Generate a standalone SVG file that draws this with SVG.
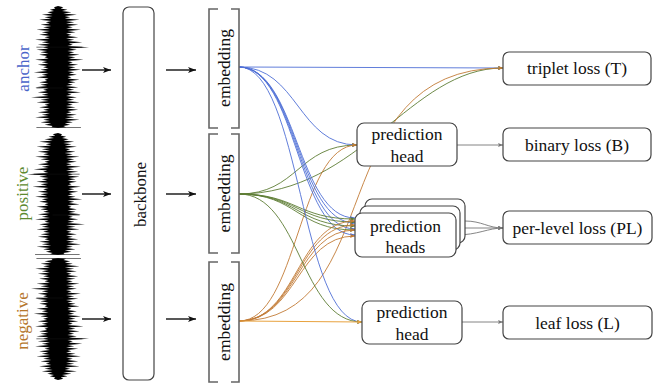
<svg xmlns="http://www.w3.org/2000/svg" xmlns:xlink="http://www.w3.org/1999/xlink" width="661" height="385" viewBox="0 0 661 385" font-family="'Liberation Serif', 'Times New Roman', serif">
<style>
text{font-family:"Liberation Serif","Times New Roman",serif;}
.lbl{font-size:17.5px;fill:#111;text-anchor:middle;}
.box{fill:#fff;stroke:#444;stroke-width:1.2;}
.brk{fill:none;stroke:#666;stroke-width:1.6;}
.blk{fill:none;stroke:#111;stroke-width:1.4;}
.gry{fill:none;stroke:#777;stroke-width:0.9;}
.cb{fill:none;stroke:#4f6fd6;stroke-width:0.9;}
.cg{fill:none;stroke:#5e7d34;stroke-width:0.9;}
.co{fill:none;stroke:#c27b35;stroke-width:0.9;}
.co2{fill:none;stroke:#e8a23e;stroke-width:1;}
.whisk{stroke:#111;stroke-width:0.5;}
</style>
<defs>
<marker id="mB" markerUnits="userSpaceOnUse" markerWidth="6" markerHeight="5" refX="5" refY="2" orient="auto"><path d="M0,0 L5,2 L0,4 L1,2 z" fill="#4f6fd6"/></marker>
<marker id="mG" markerUnits="userSpaceOnUse" markerWidth="6" markerHeight="5" refX="5" refY="2" orient="auto"><path d="M0,0 L5,2 L0,4 L1,2 z" fill="#5e7d34"/></marker>
<marker id="mO" markerUnits="userSpaceOnUse" markerWidth="6" markerHeight="5" refX="5" refY="2" orient="auto"><path d="M0,0 L5,2 L0,4 L1,2 z" fill="#c27b35"/></marker>
<marker id="mO2" markerUnits="userSpaceOnUse" markerWidth="6" markerHeight="5" refX="5" refY="2" orient="auto"><path d="M0,0 L5,2 L0,4 L1,2 z" fill="#e8a23e"/></marker>
<marker id="mGr" markerUnits="userSpaceOnUse" markerWidth="6" markerHeight="5" refX="5" refY="2" orient="auto"><path d="M0,0 L5,2 L0,4 L1,2 z" fill="#777"/></marker>
<marker id="mK" markerUnits="userSpaceOnUse" markerWidth="9" markerHeight="7" refX="8" refY="3" orient="auto"><path d="M0,0 L8,3 L0,6 L2,3 z" fill="#111"/></marker>
<g id="wave">
<path fill="#000" d="M0,0 L4,1.2 L2,2.5 L7,3.8 L3,5 L10,6.2 L4,7.5 L14,8.8 L5,10 L9,11.2 L5,12.5 L16,13.8 L6,15 L12,16.2 L6,17.5 L15,18.8 L7,20 L11,21.2 L6,22.5 L17,23.8 L7,25 L13,26.2 L6,27.5 L10,28.8 L7,30 L15,31.2 L6,32.5 L12,33.8 L7,35 L18,36.2 L8,37.5 L11,38.8 L7,40 L23,41.2 L8,42.5 L14,43.8 L7,45 L12,46.2 L8,47.5 L16,48.8 L7,50 L13,51.2 L8,52.5 L19,53.8 L7,55 L11,56.2 L8,57.5 L15,58.8 L7,60 L13,61.2 L8,62.5 L17,63.8 L7,65 L12,66.2 L8,67.5 L14,68.8 L7,70 L10,71.2 L7,72.5 L16,73.8 L8,75 L13,76.2 L7,77.5 L11,78.8 L6,80 L15,81.2 L7,82.5 L12,83.8 L6,85 L17,86.2 L7,87.5 L10,88.8 L6,90 L14,91.2 L7,92.5 L12,93.8 L6,95 L16,96.2 L7,97.5 L11,98.8 L6,100 L13,101.2 L6,102.5 L15,103.8 L7,105 L10,106.2 L6,107.5 L14,108.8 L6,110 L12,111.2 L5,112.5 L16,113.8 L6,115 L11,116.2 L5,117.5 L9,118.8 L4,120 L6,121.2 L0,122 L-5,121.2 L-4,120 L-10,118.8 L-5,117.5 L-13,116.2 L-6,115 L-11,113.8 L-6,112.5 L-17,111.2 L-7,110 L-12,108.8 L-6,107.5 L-15,106.2 L-7,105 L-11,103.8 L-6,102.5 L-14,101.2 L-7,100 L-10,98.8 L-6,97.5 L-16,96.2 L-7,95 L-13,93.8 L-6,92.5 L-20,91.2 L-7,90 L-12,88.8 L-7,87.5 L-15,86.2 L-8,85 L-11,83.8 L-7,82.5 L-17,81.2 L-8,80 L-13,78.8 L-7,77.5 L-14,76.2 L-8,75 L-10,73.8 L-7,72.5 L-16,71.2 L-8,70 L-12,68.8 L-7,67.5 L-18,66.2 L-8,65 L-13,63.8 L-7,62.5 L-11,61.2 L-8,60 L-15,58.8 L-7,57.5 L-12,56.2 L-8,55 L-17,53.8 L-7,52.5 L-10,51.2 L-8,50 L-14,48.8 L-7,47.5 L-13,46.2 L-8,45 L-16,43.8 L-7,42.5 L-11,41.2 L-7,40 L-15,38.8 L-6,37.5 L-12,36.2 L-7,35 L-17,33.8 L-6,32.5 L-10,31.2 L-6,30 L-14,28.8 L-7,27.5 L-12,26.2 L-6,25 L-16,23.8 L-6,22.5 L-11,21.2 L-5,20 L-13,18.8 L-6,17.5 L-9,16.2 L-5,15 L-14,13.8 L-5,12.5 L-10,11.2 L-4,10 L-12,8.8 L-4,7.5 L-8,6.2 L-3,5 L-6,3.8 L-2,2.5 L-3,1.2 Z"/>
<line class="whisk" x1="-16" y1="41.2" x2="18" y2="41.2"/>
<line class="whisk" x1="-16" y1="82" x2="4" y2="82"/>
<line class="whisk" x1="-16" y1="121.5" x2="17" y2="121.5"/>
</g>
</defs>
<rect width="661" height="385" fill="#fff"/>

<g id="connectors">
<path class="blk" d="M82,70 L111,70" marker-end="url(#mK)"/>
<path class="blk" d="M82,194 L111,194" marker-end="url(#mK)"/>
<path class="blk" d="M82,319 L111,319" marker-end="url(#mK)"/>
<path class="blk" d="M166,70 L196,70" marker-end="url(#mK)"/>
<path class="blk" d="M166,194 L196,194" marker-end="url(#mK)"/>
<path class="blk" d="M166,319 L196,319" marker-end="url(#mK)"/>

<path class="cb" d="M239,67 L503,68" marker-end="url(#mB)"/>
<path class="cg" d="M239,194 C360,194 410,68 503,68" marker-end="url(#mG)"/>
<path class="co" d="M239,321 C390,321 320,68 503,68" marker-end="url(#mO)"/>

<path class="cb" d="M239,67 C298,67 298,145 357,145" marker-end="url(#mB)"/>
<path class="cg" d="M239,194 C298,194 298,145 357,145" marker-end="url(#mG)"/>
<path class="co" d="M239,321 C298,321 298,145 357,145" marker-end="url(#mO)"/>

<path class="cb" d="M239,67 C297,67 297,218 355,218" marker-end="url(#mB)"/>
<path class="cb" d="M239,67 C297,67 297,223 355,223" marker-end="url(#mB)"/>
<path class="cb" d="M239,67 C297,67 297,229 355,229" marker-end="url(#mB)"/>
<path class="cb" d="M239,67 C297,67 297,235 355,235" marker-end="url(#mB)"/>
<path class="cg" d="M239,194 C297,194 297,219 355,219" marker-end="url(#mG)"/>
<path class="cg" d="M239,194 C297,194 297,222 355,222" marker-end="url(#mG)"/>
<path class="cg" d="M239,194 C297,194 297,226 355,226" marker-end="url(#mG)"/>
<path class="cg" d="M239,194 C297,194 297,230 355,230" marker-end="url(#mG)"/>
<path class="co" d="M239,321 C297,321 297,221 355,221" marker-end="url(#mO)"/>
<path class="co" d="M239,321 C297,321 297,225 355,225" marker-end="url(#mO)"/>
<path class="co" d="M239,321 C297,321 297,230 355,230" marker-end="url(#mO)"/>
<path class="co" d="M239,321 C297,321 297,236 355,236" marker-end="url(#mO)"/>

<path class="cb" d="M239,67 C300.5,67 300.5,322 362,322" marker-end="url(#mB)"/>
<path class="cg" d="M239,194 C300.5,194 300.5,322 362,322" marker-end="url(#mG)"/>
<path class="co2" d="M239,321 L362,322" marker-end="url(#mO2)"/>

<path class="gry" d="M457,145 L503,145" marker-end="url(#mGr)"/>
<path class="gry" d="M465,221 C482,221 488,228 503,228" marker-end="url(#mGr)"/>
<path class="gry" d="M460,228 L503,228" marker-end="url(#mGr)"/>
<path class="gry" d="M456,235 C478,235 488,228 503,228" marker-end="url(#mGr)"/>
<path class="gry" d="M462,322 L503,322" marker-end="url(#mGr)"/>
</g>

<g id="anchor-input">
<use xlink:href="#wave" transform="translate(58,6) scale(1.35,1)"/>
<text x="0" y="0" transform="translate(29,68.5) rotate(-90)" style="font-size:17px;fill:#4a64c9;text-anchor:middle">anchor</text>
</g>
<g id="positive-input">
<use xlink:href="#wave" transform="translate(58,133) scale(-1.35,1)"/>
<text x="0" y="0" transform="translate(28,193.5) rotate(-90)" style="font-size:17px;fill:#5c8a2e;text-anchor:middle">positive</text>
</g>
<g id="negative-input">
<use xlink:href="#wave" transform="translate(58,380) scale(1.35,-1)"/>
<text x="0" y="0" transform="translate(28,321) rotate(-90)" style="font-size:17px;fill:#b5762c;text-anchor:middle">negative</text>
</g>

<g id="backbone">
<rect class="box" x="123" y="7" width="31" height="373" rx="6" stroke="#555"/>
<text class="lbl" transform="translate(145.5,194.5) rotate(-90)" style="font-size:17px">backbone</text>
</g>

<g id="embedding-anchor">
<path class="brk" d="M218,9 L209,9 L209,128 L218,128 M231,9 L239,9 L239,128 L231,128"/>
<text class="lbl" transform="translate(230,68) rotate(-90)">embedding</text>
</g>
<g id="embedding-positive">
<path class="brk" d="M218,134 L209,134 L209,253 L218,253 M231,134 L239,134 L239,253 L231,253"/>
<text class="lbl" transform="translate(230,193.5) rotate(-90)">embedding</text>
</g>
<g id="embedding-negative">
<path class="brk" d="M218,262 L209,262 L209,382 L218,382 M231,262 L239,262 L239,382 L231,382"/>
<text class="lbl" transform="translate(230,322) rotate(-90)">embedding</text>
</g>

<g id="prediction-head">
<rect class="box" x="357" y="123" width="100" height="43" rx="7"/>
<text class="lbl" x="407" y="140">prediction</text>
<text class="lbl" x="407" y="161.5">head</text>
</g>
<g id="prediction-heads">
<rect class="box" x="365" y="199" width="100" height="44" rx="7"/>
<rect class="box" x="360" y="206" width="100" height="44" rx="7"/>
<rect class="box" x="355" y="213" width="101" height="44" rx="7"/>
<text class="lbl" x="405.5" y="232">prediction</text>
<text class="lbl" x="405.5" y="253">heads</text>
</g>
<g id="prediction-head-leaf">
<rect class="box" x="362" y="301" width="100" height="43" rx="7"/>
<text class="lbl" x="412" y="318">prediction</text>
<text class="lbl" x="412" y="339.5">head</text>
</g>

<g id="triplet-loss">
<rect class="box" x="503" y="52" width="148" height="33" rx="6"/>
<text class="lbl" x="577" y="74">triplet loss (T)</text>
</g>
<g id="binary-loss">
<rect class="box" x="503" y="128" width="148" height="33" rx="6"/>
<text class="lbl" x="577" y="150.5">binary loss (B)</text>
</g>
<g id="per-level-loss">
<rect class="box" x="503" y="211" width="149" height="33" rx="6"/>
<text class="lbl" x="577.5" y="233.5">per-level loss (PL)</text>
</g>
<g id="leaf-loss">
<rect class="box" x="503" y="306" width="149" height="33" rx="6"/>
<text class="lbl" x="577.5" y="328.5">leaf loss (L)</text>
</g>
</svg>
